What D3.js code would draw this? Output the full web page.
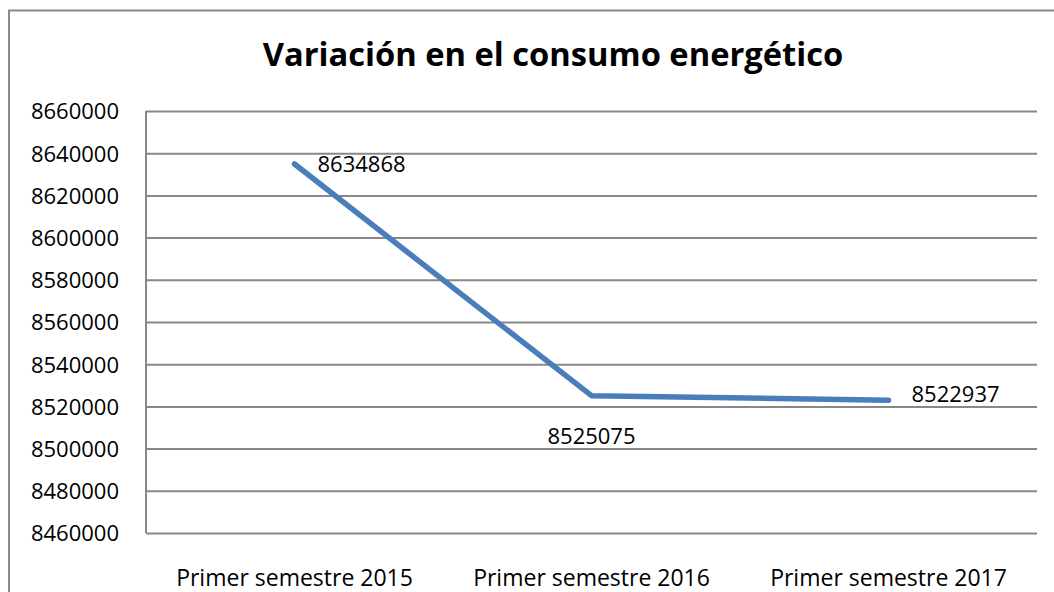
<!DOCTYPE html>
<html>
<head>
<meta charset="utf-8">
<script src="https://cdn.jsdelivr.net/npm/d3@7"></script>
<style>
  html, body { margin: 0; padding: 0; background: #fff; }
  svg { display: block; }
  text { font-family: "Open Sans", Lato, sans-serif; fill: #000; }
</style>
</head>
<body>
<script>
const title = "Variación en el consumo energético";
const categories = ["Primer semestre 2015", "Primer semestre 2016", "Primer semestre 2017"];
const values = [8634868, 8525075, 8522937];
const yTicks = [8460000, 8480000, 8500000, 8520000, 8540000, 8560000, 8580000, 8600000, 8620000, 8640000, 8660000];
const labelPos = ["right", "below", "right"];

const W = 1054, H = 592;
const margin = { left: 146, right: 17, top: 111, bottom: 59 };
const FONT = "'Open Sans', Lato, sans-serif";
const fs = 22;

const svg = d3.select("body").append("svg").attr("width", W).attr("height", H);

// outer chart border
svg.append("rect")
  .attr("x", 9).attr("y", 10.5).attr("width", W + 20).attr("height", H + 20)
  .attr("fill", "#fff").attr("stroke", "#8a8a8a").attr("stroke-width", 2);

const x = d3.scaleBand().domain(categories).range([margin.left, W - margin.right]);
const y = d3.scaleLinear().domain([yTicks[0], yTicks[yTicks.length - 1]]).range([H - margin.bottom, margin.top]);

// gridlines
const yAxis = d3.axisLeft(y).tickValues(yTicks).tickSize(-(W - margin.right - margin.left)).tickPadding(27).tickFormat(d3.format("d"));
const gy = svg.append("g").attr("transform", `translate(${margin.left},0)`).call(yAxis);
gy.select(".domain").remove();
gy.selectAll(".tick line").attr("stroke", "#888").attr("stroke-width", 2);
gy.selectAll(".tick text").attr("font-size", fs).attr("font-family", FONT).attr("fill", "#000").attr("dy", "0.36em");

// left axis line
svg.append("line")
  .attr("x1", margin.left).attr("x2", margin.left)
  .attr("y1", y.range()[1]).attr("y2", y.range()[0])
  .attr("stroke", "#888").attr("stroke-width", 2);

// x axis
const xAxis = d3.axisBottom(x).tickSize(0).tickPadding(45);
const gx = svg.append("g").attr("transform", `translate(0,${H - margin.bottom})`).call(xAxis);
gx.select(".domain").remove();
gx.selectAll(".tick text").attr("font-size", 23).attr("font-family", FONT).attr("fill", "#000").attr("dy", "0.36em");

// line
const data = categories.map((c, i) => ({ c, v: values[i], pos: labelPos[i] }));
const line = d3.line().x(d => x(d.c) + x.bandwidth() / 2).y(d => y(d.v));
svg.append("path").datum(data)
  .attr("d", line)
  .attr("fill", "none").attr("stroke", "#4a7ebb").attr("stroke-width", 5.5)
  .attr("stroke-linecap", "round").attr("stroke-linejoin", "round");

// data labels
svg.selectAll(".dlabel").data(data).join("text")
  .attr("class", "dlabel")
  .attr("x", d => x(d.c) + x.bandwidth() / 2 + (d.pos === "right" ? 23 : 0))
  .attr("y", (d, i) => y(d.v) + (d.pos === "below" ? 40 : (i === 2 ? -6 : 0)))
  .attr("dy", "0.36em")
  .attr("text-anchor", d => d.pos === "right" ? "start" : "middle")
  .attr("font-size", fs)
  .text(d => d.v);

// title
svg.append("text")
  .attr("x", 553).attr("y", 66)
  .attr("text-anchor", "middle")
  .attr("font-size", 32.7).attr("font-weight", "bold")
  .text(title);
</script>
</body>
</html>
